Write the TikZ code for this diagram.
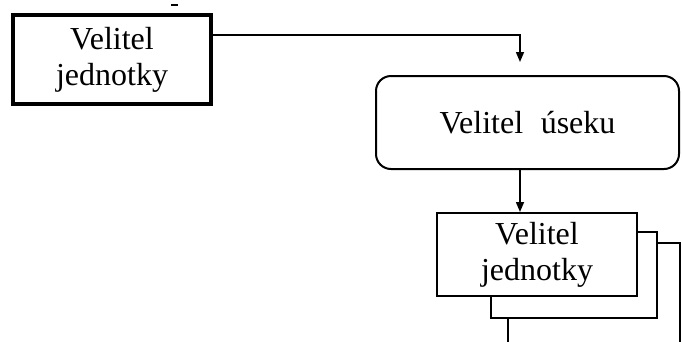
\documentclass[tikz,border=0pt]{standalone}
\usepackage{fontspec}
\setmainfont{Liberation Serif}
\usetikzlibrary{positioning,calc,arrows.meta}

\tikzset{
  unitbox/.style={draw, fill=white, align=center, inner sep=0pt,
    font=\fontsize{32}{36}\selectfont},
  link/.style={line width=1.5pt, -{Triangle[length=10pt,width=8pt]}}
}

\begin{document}
\begin{tikzpicture}[x=1pt,y=-1pt]
    \useasboundingbox (0,0) rectangle (682,341);

    % commander of the unit
    \node[unitbox, line width=4pt, minimum width=198pt, minimum height=89pt] (unit) at (112,59.5) {Velitel\\jednotky};
    \draw[line width=1.2pt] (171,5) -- (178,5);

    % sector commander
    \node[unitbox, line width=2pt, rounded corners=15pt, minimum width=303pt, minimum height=93pt] (sector) at (527.5,122.5) {Velitel\hspace{0.55em}úseku};

    % stacked unit commanders
    \draw[line width=2pt, fill=white] (508,243) rectangle (680,360);
    \draw[line width=2pt, fill=white] (491,232) rectangle (657,318);
    \node[unitbox, line width=2pt, minimum width=200pt, minimum height=83pt] (squad) at (537,254.5) {Velitel\\jednotky};

    \draw[link] ([yshift=24.5pt]unit.east) -| ([xshift=-7.5pt,yshift=13pt]sector.north);
    \draw[link] ([xshift=-7.5pt]sector.south) -- ([xshift=-7.5pt]sector.south |- squad.north);
\end{tikzpicture}
\end{document}
